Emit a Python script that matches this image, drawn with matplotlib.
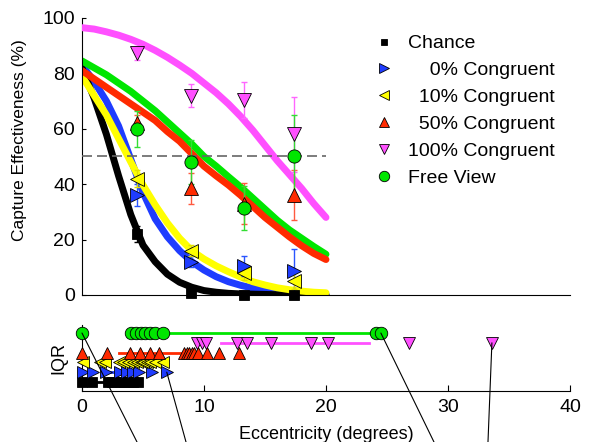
"""Capture effectiveness vs eccentricity with per-subject threshold IQRs."""

import matplotlib
matplotlib.use('Agg')
from matplotlib import pyplot
from matplotlib.lines import Line2D
import numpy

fit_x = numpy.arange(0, 21)
fit_chance = [82, 71, 58, 43, 29, 18, 12, 7.5, 4.6, 2.8, 1.6, 1.0, 0.6,
              0.4, 0.3, 0.2, 0.1, 0.1, 0.1, 0.0, 0.0]
fit_cong0 = [83, 77, 70, 61, 49, 37, 27.5, 21, 16, 12, 9, 6.6, 4.8, 3.5,
             2.5, 1.8, 1.3, 0.9, 0.6, 0.4, 0.3]
fit_cong10 = [79, 72, 65, 56.5, 48, 39.7, 32.5, 26, 20.5, 16, 13, 10.5, 8.4,
              6.5, 4.8, 3.6, 2.6, 1.9, 1.4, 1.0, 0.8]
fit_cong50 = [81, 78, 75, 72, 69, 66, 63, 59, 55.5, 51, 46.5, 43, 39.7, 36,
              32, 28, 24.5, 21, 17.8, 15, 12.8]
fit_cong100 = [96.5, 96, 95, 93.8, 92.3, 90.5, 88.3, 85.8, 83, 80, 76.5, 73,
               69, 64.5, 59.5, 54, 48.5, 43.5, 38.5, 33, 28]
fit_free = [84.5, 82, 79.5, 76.5, 73.5, 70, 66.5, 62.5, 58.5, 54.5, 50, 46.5,
            42.7, 39, 35, 31, 27, 23.5, 20.5, 17.5, 14.7]

# Measured capture effectiveness (mean and error) at four eccentricities.
ecc = [4.5, 8.9, 13.3, 17.4]
mean_chance = [22, 0.7, 0.0, 0.0]
err_chance = [3, 0.5, 0.0, 0.0]
mean_cong0 = [36, 12, 10.5, 8.5]
err_cong0 = [4, 2, 3.5, 8]
mean_cong10 = [42, 16, 8, 5]
err_cong10 = [3, 2, 2.5, 3]
mean_cong50 = [62, 38.5, 33, 36]
err_cong50 = [3, 5.5, 7.5, 9]
mean_cong100 = [87.5, 72, 70.5, 58]
err_cong100 = [2.5, 4, 6.5, 13.5]
mean_free = [60, 48, 31.5, 50]
err_free = [6.5, 8, 8, 15]

# Per-subject thresholds (degrees) and interquartile ranges.
thr_chance = [0.0, 0.8, 2.1, 2.5, 3.0, 3.4, 3.8, 4.2, 4.6]
thr_cong0 = [0.1, 0.9, 2.0, 3.1, 3.7, 4.2, 4.7, 5.7, 6.95]
thr_cong10 = [0.1, 1.5, 1.9, 3.0, 3.4, 3.8, 4.2, 4.5, 4.8, 5.0, 5.3, 5.6,
              6.0, 6.6]
thr_cong50 = [0.0, 2.05, 3.95, 4.75, 5.6, 6.35, 8.4, 8.6, 8.8, 9.0, 9.2, 9.5,
              10.25, 11.2, 12.9]
thr_cong100 = [9.4, 9.8, 10.2, 12.7, 13.5, 15.5, 18.8, 20.2, 26.8, 33.6]
thr_free = [0.0, 4.0, 4.4, 4.8, 5.2, 5.6, 6.0, 6.6, 24.1, 24.5]
iqr_chance = (0.8, 4.0)
iqr_cong0 = (2.0, 4.7)
iqr_cong10 = (3.0, 5.6)
iqr_cong50 = (3.0, 8.5)
iqr_cong100 = (11.4, 23.5)
iqr_free = (6.6, 23.9)

labels = ['Chance', '\u2007\u20070% Congruent', '\u200710% Congruent',
          '\u200750% Congruent', '100% Congruent', 'Free View']

# Leader lines from individual thresholds to images below the figure.
leader_x = [0.0, 6.95, 24.5, 33.6]
leader_row = [6, 2, 6, 5]
leader_end = [0.2326, 0.3158, 0.7368, 0.8285]

conditions = [
    dict(label=labels[0], fit=fit_chance, mean=mean_chance, err=err_chance,
         thr=thr_chance, iqr=iqr_chance, row=1, marker='s', ms=7,
         color='black', ecolor='black', z=2.2),
    dict(label=labels[1], fit=fit_cong0, mean=mean_cong0, err=err_cong0,
         thr=thr_cong0, iqr=iqr_cong0, row=2, marker='>', ms=9.5,
         color='#1f3cff', ecolor='#2a55ff', z=2.1),
    dict(label=labels[2], fit=fit_cong10, mean=mean_cong10, err=err_cong10,
         thr=thr_cong10, iqr=iqr_cong10, row=3, marker='<', ms=9.5,
         color='#ffff00', ecolor='#e0e000', z=2.3),
    dict(label=labels[3], fit=fit_cong50, mean=mean_cong50, err=err_cong50,
         thr=thr_cong50, iqr=iqr_cong50, row=4, marker='^', ms=9.5,
         color='#ff2a00', ecolor='#ff5a40', z=2.5),
    dict(label=labels[4], fit=fit_cong100, mean=mean_cong100,
         err=err_cong100, thr=thr_cong100, iqr=iqr_cong100, row=5,
         marker='v', ms=9.5, color='#ff50ff', ecolor='#ff66ff', z=2.6),
    dict(label=labels[5], fit=fit_free, mean=mean_free, err=err_free,
         thr=thr_free, iqr=iqr_free, row=6, marker='o', ms=9.5,
         color='#00e600', ecolor='#33dd33', z=2.4),
]

pyplot.rc('font', family=['Liberation Sans', 'DejaVu Sans'], size=13)

fig = pyplot.figure(figsize=(5.89, 4.42), dpi=100)
ax = fig.add_axes([0.1392, 0.3326, 0.8285, 0.6267])
ax_iqr = fig.add_axes([0.1392, 0.1154, 0.8285, 0.1493])

# Top panel: fitted curves, data points with error bars.
for c in conditions:
    ax.plot(fit_x, c['fit'], color=c['color'], linewidth=5.0,
            solid_capstyle='round', zorder=c['z'])
ax.plot([fit_x[0], fit_x[-1]], [50, 50], color='#666666', linewidth=1.2,
        dashes=(6, 3), zorder=2.8)
for c in conditions:
    ax.errorbar(ecc, c['mean'], yerr=c['err'], fmt='none',
                ecolor=c['ecolor'], elinewidth=1.0, capsize=2.5,
                capthick=1.0, zorder=3)
    ax.plot(ecc, c['mean'], linestyle='none', marker=c['marker'],
            markersize=c['ms'], markerfacecolor=c['color'],
            markeredgecolor='black', markeredgewidth=0.6, zorder=4,
            clip_on=False)

ax.set_xlim(0, 40)
ax.set_ylim(0, 100)
ax.set_yticks([0, 20, 40, 60, 80, 100])
ax.tick_params(axis='y', direction='in', length=3, labelsize=14, pad=5)
ax.tick_params(axis='x', bottom=False, labelbottom=False)
ax.spines['right'].set_visible(False)
ax.spines['top'].set_visible(False)
ax.set_ylabel('Capture Effectiveness (%)', fontsize=12.5)
ax.yaxis.set_label_coords(-0.113, 0.56)

handles = [Line2D([], [], linestyle='none', marker=c['marker'],
                  markersize=c['ms'] - 2, markerfacecolor=c['color'],
                  markeredgecolor='black', markeredgewidth=0.6)
           for c in conditions]
fig.legend(handles, labels, loc='upper left',
           bbox_to_anchor=(365 / 589, 1 - 25 / 442), frameon=False,
           fontsize=14, handlelength=1.0, handletextpad=0.7,
           labelspacing=0.48, borderpad=0)

# Bottom panel: individual thresholds and their IQRs.
for c in conditions:
    ax_iqr.plot(c['iqr'], [c['row'], c['row']], color=c['color'],
                linewidth=2.0, zorder=2)
    ax_iqr.plot(c['thr'], [c['row']] * len(c['thr']), linestyle='none',
                marker=c['marker'], markersize=c['ms'] - 0.5,
                markerfacecolor=c['color'], markeredgecolor='black',
                markeredgewidth=0.6, zorder=3, clip_on=False)

for x, row, end in zip(leader_x, leader_row, leader_end):
    ax_iqr.annotate('', xy=(x, row), xycoords='data', xytext=(end, 0.0),
                    textcoords='figure fraction', annotation_clip=False,
                    arrowprops=dict(arrowstyle='-', color='black',
                                    linewidth=0.8, shrinkA=0, shrinkB=0))

ax_iqr.set_xlim(0, 40)
ax_iqr.set_ylim(0.08, 6.82)
ax_iqr.set_xticks([0, 10, 20, 30, 40])
ax_iqr.set_yticks([])
ax_iqr.tick_params(axis='x', direction='in', length=4, labelsize=14, pad=6)
ax_iqr.spines['right'].set_visible(False)
ax_iqr.spines['top'].set_visible(False)
ax_iqr.set_ylabel('IQR', fontsize=13)
ax_iqr.yaxis.set_label_coords(-0.029, 0.5)
ax_iqr.set_xlabel('Eccentricity (degrees)', fontsize=13, labelpad=7)

fig.savefig('out.png', dpi=100)
